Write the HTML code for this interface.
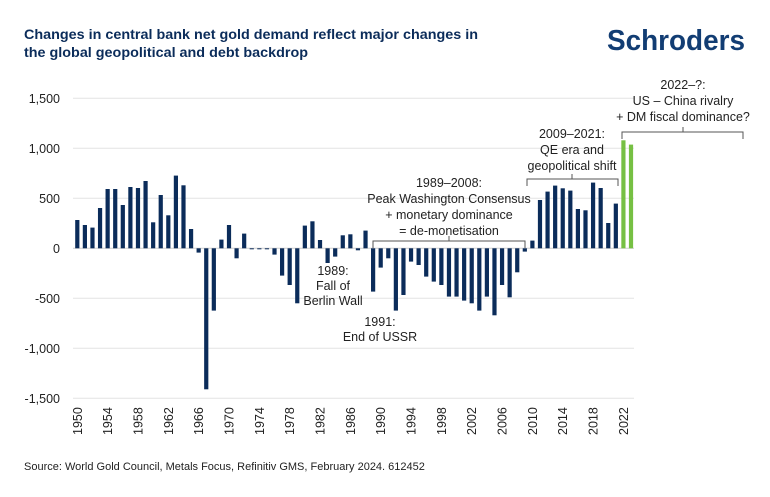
<!DOCTYPE html>
<html><head><meta charset="utf-8"><style>
body{margin:0;background:#fff;}
svg{display:block;font-family:"Liberation Sans",sans-serif;}
</style></head><body>
<svg id="chart" width="770" height="497" viewBox="0 0 770 497">
<text x="24" y="39" font-size="14" font-weight="bold" fill="#0b2c5a" textLength="454" lengthAdjust="spacingAndGlyphs">Changes in central bank net gold demand reflect major changes in</text>
<text x="24" y="57" font-size="14" font-weight="bold" fill="#0b2c5a" textLength="284" lengthAdjust="spacingAndGlyphs">the global geopolitical and debt backdrop</text>
<text x="607" y="50" font-size="29" font-weight="bold" fill="#123d73" textLength="138" lengthAdjust="spacingAndGlyphs">Schroders</text>
<g id="grid"></g><g id="ylabels"></g><g id="bars"></g><g id="xlabels"></g>
<g fill="#222" font-size="12.5" text-anchor="middle">
<text x="333" y="275"><tspan x="333">1989:</tspan><tspan x="333" dy="15">Fall of</tspan><tspan x="333" dy="15">Berlin Wall</tspan></text>
<text x="380" y="326"><tspan x="380">1991:</tspan><tspan x="380" dy="15">End of USSR</tspan></text>
<text x="449" y="187"><tspan x="449">1989–2008:</tspan><tspan x="449" dy="16">Peak Washington Consensus</tspan><tspan x="449" dy="16">+ monetary dominance</tspan><tspan x="449" dy="16">= de-monetisation</tspan></text>
<text x="572" y="138"><tspan x="572">2009–2021:</tspan><tspan x="572" dy="16">QE era and</tspan><tspan x="572" dy="16">geopolitical shift</tspan></text>
<text x="683" y="89"><tspan x="683">2022–?:</tspan><tspan x="683" dy="16">US – China rivalry</tspan><tspan x="683" dy="16">+ DM fiscal dominance?</tspan></text>
</g>
<g fill="none" stroke="#555" stroke-width="1">
<path d="M373 248 V241 H449 V236 M449 241 H525 V248"/>
<path d="M527 186 V179 H572 V174 M572 179 H618 V186"/>
<path d="M622 139 V132 H683 V127 M683 132 H743 V139"/>
</g>
<text x="24" y="470" font-size="11" fill="#222">Source: World Gold Council, Metals Focus, Refinitiv GMS, February 2024. 612452</text>
</svg>
<script>
const years=[];for(let y=1950;y<=2023;y++)years.push(y);
const values=[283,233,207,403,593,593,433,613,603,673,260,533,330,727,630,193,-43,-1410,-623,87,233,-100,147,-10,-10,-10,-63,-273,-367,-550,227,270,83,-147,-83,130,140,-20,177,
-433,-193,-100,-623,-467,-133,-167,-283,-333,-367,-483,-483,-523,-550,-623,-483,-670,-367,-490,-240,-33,
77,483,567,627,600,577,393,380,657,603,253,447,1080,1037];
const yTicks=[1500,1000,500,0,-500,-1000,-1500];
const yTickLabels=["1,500","1,000","500","0","-500","-1,000","-1,500"];
const xTickYears=[1950,1954,1958,1962,1966,1970,1974,1978,1982,1986,1990,1994,1998,2002,2006,2010,2014,2018,2022];
const NS="http://www.w3.org/2000/svg";
const yS=v=>248.3-v*0.1;
const xS=yr=>77.3+(yr-1950)*7.585;
function mk(t,a,p){const e=document.createElementNS(NS,t);for(const k in a)e.setAttribute(k,a[k]);p.appendChild(e);return e;}
const grid=document.getElementById('grid'),yl=document.getElementById('ylabels'),bars=document.getElementById('bars'),xl=document.getElementById('xlabels');
yTicks.forEach((v,i)=>{
 const l=mk('line',{x1:73,x2:634,y1:yS(v),y2:yS(v),stroke:v===0?'#cfcfcf':'#e3e3e3','stroke-width':1},grid);
 
 
 const t=mk('text',{x:60,y:yS(v)+4.5,'text-anchor':'end','font-size':12.5,fill:'#222'},yl);
 t.textContent=yTickLabels[i];
 
 
});
years.forEach((yr,i)=>{
 const v=values[i];const y0=yS(0),y1=yS(v);
 const r=mk('rect',{x:xS(yr)-2.1,y:Math.min(y0,y1),width:4.2,height:Math.max(1,Math.abs(y1-y0)),fill:yr>=2022?'#76c043':'#0b2c5a'},bars);
 
 
});
xTickYears.forEach(yr=>{
 const x=xS(yr)+4.5,y=435;
 const t=mk('text',{x:x,y:y,transform:`rotate(-90 ${x} ${y})`,'font-size':12.5,fill:'#222'},xl);
 t.textContent=yr;
 
 
});
</script>
</body></html>
